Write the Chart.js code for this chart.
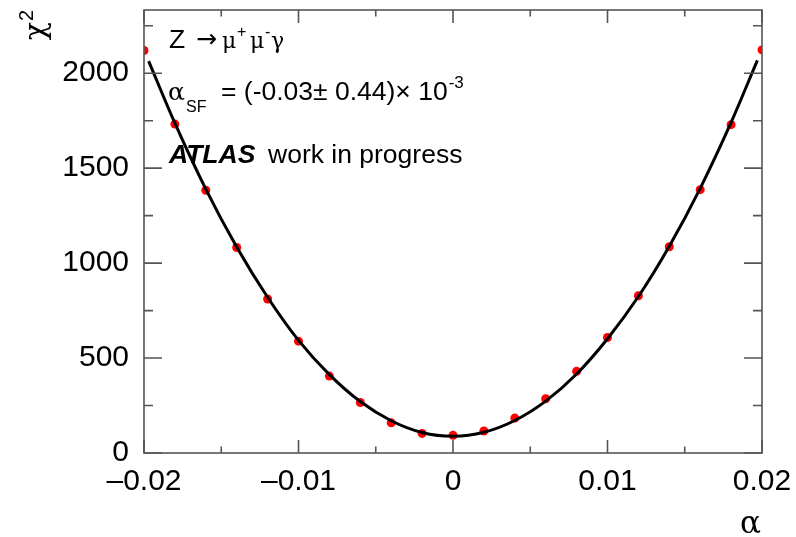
<!DOCTYPE html>
<html>
<head>
<meta charset="utf-8">
<script src="https://cdn.jsdelivr.net/npm/chart.js@4/dist/chart.umd.min.js"></script>
<style>
  html, body { margin: 0; padding: 0; background: #fff; }
  #wrap { width: 796px; height: 537px; position: relative; }
</style>
</head>
<body>
<div id="wrap"><canvas id="c" width="796" height="537"></canvas></div>
<script>
// Scan points: chi2 value at each alpha
const alphaValues = [-0.020, -0.018, -0.016, -0.014, -0.012, -0.010, -0.008, -0.006, -0.004, -0.002,
                      0.000,  0.002,  0.004,  0.006,  0.008,  0.010,  0.012,  0.014,  0.016,  0.018, 0.020];
const chi2Values  = [2120, 1732, 1384, 1082, 811, 589, 405, 266, 159, 103,
                     93, 116, 184, 286, 430, 608, 828, 1086, 1387, 1729, 2123];

// Fitted parabola, sampled along alpha
const fitAlpha = [-0.0197, -0.018, -0.016, -0.014, -0.012, -0.010, -0.008, -0.006, -0.004, -0.002,
                   0.000,  0.002,  0.004,  0.006,  0.008,  0.010,  0.012,  0.014,  0.016,  0.018, 0.0197];
const fitChi2  = [2064, 1737, 1390, 1085, 820, 593, 413, 271, 170, 108,
                  88, 109, 171, 273, 416, 602, 824, 1089, 1394, 1741, 2068];

// Axis ticks
const xTickValues = [-0.02, -0.01, 0, 0.01, 0.02];
const xTickLabels = ['\u20130.02', '\u20130.01', '0', '0.01', '0.02'];
const xMinorTicks = [-0.015, -0.005, 0.005, 0.015];
const yTickValues = [0, 500, 1000, 1500, 2000];
const yTickLabels = ['0', '500', '1000', '1500', '2000'];
const yMinorTicks = [250, 750, 1250, 1750, 2250];

const FONT = '"Liberation Sans", Arial, Helvetica, sans-serif';
const GREEK = '"DejaVu Serif", "Liberation Serif", serif';
const ARROW = '"DejaVu Sans", sans-serif';
const FRAME = '#555';

// Frame with inward ticks on all four sides
const framePlugin = {
  id: 'frame',
  afterDraw(chart) {
    const { ctx, chartArea: a, scales } = chart;
    const xs = scales.x, ys = scales.y;
    ctx.save();
    ctx.strokeStyle = FRAME;
    ctx.lineWidth = 1.6;
    ctx.strokeRect(a.left, a.top, a.right - a.left, a.bottom - a.top);
    ctx.beginPath();
    const xt = (v, len) => {
      const px = xs.getPixelForValue(v);
      ctx.moveTo(px, a.bottom); ctx.lineTo(px, a.bottom - len);
      ctx.moveTo(px, a.top);    ctx.lineTo(px, a.top + len);
    };
    const yt = (v, len) => {
      const py = ys.getPixelForValue(v);
      ctx.moveTo(a.left, py);  ctx.lineTo(a.left + len, py);
      ctx.moveTo(a.right, py); ctx.lineTo(a.right - len, py);
    };
    xTickValues.forEach(v => xt(v, 13));
    xMinorTicks.forEach(v => xt(v, 6.5));
    yTickValues.forEach(v => yt(v, 18));
    yMinorTicks.forEach(v => yt(v, 9));
    ctx.stroke();
    ctx.restore();
  }
};

// Draws a sequence of text pieces; each continues where the previous one ended
// unless it gives its own x, and may shift by dx / dy.
function runs(ctx, x0, y0, items) {
  let x = x0;
  items.forEach(it => {
    ctx.font = (it.style || '') + ' ' + it.size + 'px ' + (it.family || FONT);
    if (it.x !== undefined) x = it.x;
    x += it.dx || 0;
    ctx.fillText(it.t, x, y0 + (it.dy || 0));
    x += ctx.measureText(it.t).width;
  });
}

// Axis titles and annotation text
const textPlugin = {
  id: 'texts',
  afterDraw(chart) {
    const ctx = chart.ctx;
    ctx.save();
    ctx.fillStyle = '#000';
    ctx.textBaseline = 'alphabetic';
    ctx.textAlign = 'left';

    runs(ctx, 169, 48, [
      { t: 'Z', size: 26.5 },
      { t: '\u2192', size: 25, family: ARROW, x: 196, dy: -1 },
      { t: '\u03bc', size: 22, family: GREEK, x: 222 },
      { t: '+', size: 16, dy: -11, x: 237 },
      { t: '\u03bc', size: 22, family: GREEK, x: 250 },
      { t: '-', size: 16, dy: -11, x: 265 },
      { t: '\u03b3', size: 22, family: GREEK, x: 271 }
    ]);

    runs(ctx, 168, 100, [
      { t: '\u03b1', size: 25, family: GREEK },
      { t: 'SF', size: 16, dy: 12, x: 186 },
      { t: '= (-0.03\u00b1 0.44)\u00d7 10', size: 26.5, x: 221 },
      { t: '-3', size: 17, dy: -12, dx: 1 }
    ]);

    runs(ctx, 169, 163, [
      { t: 'ATLAS', size: 26.5, style: 'italic bold' },
      { t: 'work in progress', size: 26.5, x: 268 }
    ]);

    // x-axis title
    ctx.textAlign = 'right';
    ctx.font = '31px ' + GREEK;
    ctx.fillText('\u03b1', 761, 533);

    // y-axis title, rotated
    ctx.save();
    ctx.translate(45, 10);
    ctx.rotate(-Math.PI / 2);
    ctx.textAlign = 'left';
    ctx.font = '20px ' + FONT;
    const w2 = ctx.measureText('2').width;
    ctx.fillText('2', -w2, -12);
    ctx.font = '30px ' + GREEK;
    const wc = ctx.measureText('\u03c7').width;
    ctx.fillText('\u03c7', -w2 - wc - 1, 0);
    ctx.restore();

    ctx.restore();
  }
};

const chart = new Chart(document.getElementById('c'), {
  type: 'scatter',
  data: {
    datasets: [
      {
        label: 'fit',
        data: fitAlpha.map((a, i) => ({ x: a, y: fitChi2[i] })),
        showLine: true,
        borderColor: '#000',
        borderWidth: 3,
        pointRadius: 0,
        cubicInterpolationMode: 'monotone',
        order: 0
      },
      {
        label: 'scan',
        data: alphaValues.map((a, i) => ({ x: a, y: chi2Values[i] })),
        showLine: false,
        pointRadius: 4.5,
        pointBackgroundColor: '#ff0000',
        pointBorderWidth: 0,
        order: 1
      }
    ]
  },
  options: {
    responsive: false,
    animation: false,
    events: [],
    layout: { padding: { left: 0, right: 34, top: 10, bottom: 0 } },
    plugins: { legend: { display: false }, tooltip: { enabled: false } },
    scales: {
      x: {
        type: 'linear',
        min: -0.02,
        max: 0.02,
        border: { display: false },
        grid: { display: false },
        afterBuildTicks(scale) { scale.ticks = xTickValues.map(v => ({ value: v })); },
        afterFit(scale) {
          scale.height = 84;
          scale.paddingLeft = 0; scale.paddingRight = 0;
        },
        ticks: {
          padding: 3,
          maxRotation: 0,
          autoSkip: false,
          color: '#000',
          font: { family: FONT, size: 30 },
          callback(value) {
            const i = xTickValues.findIndex(v => Math.abs(v - value) < 1e-9);
            return i >= 0 ? xTickLabels[i] : '';
          }
        }
      },
      y: {
        type: 'linear',
        min: 0,
        max: 2333,
        border: { display: false },
        grid: { display: false },
        afterBuildTicks(scale) { scale.ticks = yTickValues.map(v => ({ value: v })); },
        afterFit(scale) {
          scale.width = 144;
          scale.paddingTop = 0; scale.paddingBottom = 0;
        },
        ticks: {
          padding: 7,
          autoSkip: false,
          color: '#000',
          font: { family: FONT, size: 30 },
          callback(value) {
            const i = yTickValues.indexOf(value);
            return i >= 0 ? yTickLabels[i] : '';
          }
        }
      }
    }
  },
  plugins: [framePlugin, textPlugin]
});
</script>
</body>
</html>
